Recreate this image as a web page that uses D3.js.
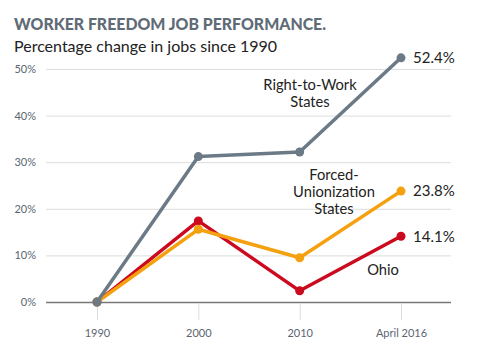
<!DOCTYPE html>
<html><head><meta charset="utf-8">
<script src="https://cdn.jsdelivr.net/npm/d3@7"></script>
<style>body{margin:0;background:#fff}svg{display:block}text{font-family:Lato,"Open Sans",sans-serif}</style>
</head><body>
<script>
const categories = ["1990","2000","2010","April 2016"];
const rightToWork = [0, 31.2, 32.2, 52.4];
const forcedUnion = [0, 15.6, 9.5, 23.8];
const ohio = [0, 17.4, 2.4, 14.1];
const yTicks = [0,10,20,30,40,50];
const valueLabels = ["52.4%","23.8%","14.1%"];

const W=486,H=356;
const svg=d3.select("body").append("svg").attr("width",W).attr("height",H);
const x=d3.scalePoint().domain(categories).range([97,401]);
const y=d3.scaleLinear().domain([0,50]).range([302,69]);

svg.append("text").attr("x",14).attr("y",30).text("WORKER FREEDOM JOB PERFORMANCE.")
  .attr("font-size",16.5).attr("font-weight",900).attr("fill","#5f6b76")
  .attr("textLength",312).attr("lengthAdjust","spacingAndGlyphs");
svg.append("text").attr("x",14).attr("y",52).text("Percentage change in jobs since 1990")
  .attr("font-size",16).attr("fill","#222");

// grid
const yAxis=svg.append("g").attr("transform","translate(46,0)")
  .call(d3.axisLeft(y).tickValues(yTicks).tickFormat(d=>d+"%").tickSize(-405).tickPadding(10));
yAxis.select(".domain").remove();
yAxis.selectAll(".tick line").attr("stroke",d=>d===0?"#777":"#ddd").attr("stroke-width",d=>d===0?1.5:1);
yAxis.selectAll(".tick text").attr("font-size",11).attr("fill","#5a6570").attr("font-family","Lato,sans-serif");

const xAxis=svg.append("g").attr("transform","translate(0,303)")
  .call(d3.axisBottom(x).tickSize(17).tickPadding(9));
xAxis.select(".domain").remove();
xAxis.selectAll(".tick line").attr("stroke","#ddd");
xAxis.selectAll(".tick text").attr("font-size",11).attr("fill","#5a6570").attr("font-family","Lato,sans-serif");

const series=[
  {vals:ohio,color:"#cc0a1f"},
  {vals:forcedUnion,color:"#f5a00f"},
  {vals:rightToWork,color:"#6b7a86"}
];
const line=d3.line().x((d,i)=>x(categories[i])).y(d=>y(d));
series.forEach(s=>{
  svg.append("path").datum(s.vals).attr("d",line).attr("fill","none")
    .attr("stroke",s.color).attr("stroke-width",3.5).attr("stroke-linejoin","round");
  svg.selectAll(null).data(s.vals).enter().append("circle")
    .attr("cx",(d,i)=>x(categories[i])).attr("cy",d=>y(d)).attr("r",4.5).attr("fill",s.color);
});

const last=categories[3];
[[rightToWork,valueLabels[0]],[forcedUnion,valueLabels[1]],[ohio,valueLabels[2]]].forEach(([v,t])=>{
  svg.append("text").attr("x",x(last)+12).attr("y",y(v[3])).attr("dy","0.35em")
    .text(t).attr("font-size",15).attr("fill","#222");
});

function lbl(lines,cx,cy){
  lines.forEach((l,i)=>svg.append("text").attr("x",cx).attr("y",cy+i*17).attr("dy","0.35em")
    .attr("text-anchor","middle").text(l).attr("font-size",14.7).attr("fill","#222"));
}
lbl(["Right-to-Work","States"],310,85);
lbl(["Forced-","Unionization","States"],334,175);
lbl(["Ohio"],383,270);
</script>
</body></html>
